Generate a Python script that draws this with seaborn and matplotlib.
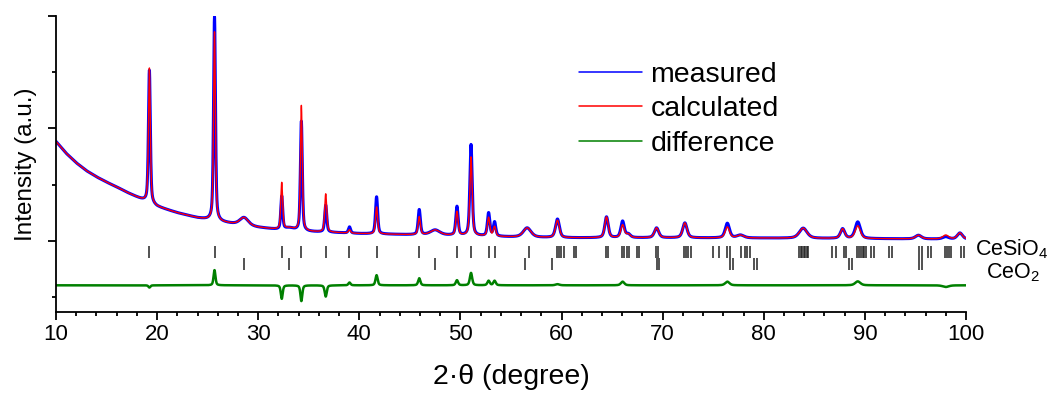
import numpy as np
import matplotlib
matplotlib.use("Agg")
import matplotlib.pyplot as plt
import seaborn as sns

# background knots (2theta, intensity)
bg_angle = [10, 11, 12, 13, 14, 15, 16, 17, 18, 20, 22, 24, 26, 28, 30, 32, 35, 38, 40, 45, 50, 55, 60, 70, 80, 90, 100]
bg_value = [1770, 1560, 1390, 1250, 1140, 1045, 960, 865, 780, 610, 500, 410, 345, 290, 240, 200, 165, 145, 130, 110, 95, 70, 55, 55, 50, 40, 30]

# reflections: position, calculated height, measured height, fwhm
peak_pos  = [19.24, 25.68, 28.6, 32.33, 33.1, 34.27, 36.68, 39.03, 41.71, 45.93, 47.5, 49.66, 51.05, 52.79, 53.38,
             56.6, 59.6, 64.45, 66.04, 66.6, 69.4, 72.2, 76.4, 77.7, 83.9, 87.8, 89.3, 95.3, 98.0, 99.4]
calc_h    = [2400, 3360, 140, 830, 40, 2230, 680, 60, 480, 320, 90, 420, 1400, 330, 170,
             165, 310, 370, 225, 60, 175, 265, 195, 50, 180, 170, 225, 65, 70, 110]
meas_h    = [2360, 3630, 140, 590, 40, 1950, 480, 110, 660, 445, 90, 510, 1620, 410, 250,
             165, 330, 370, 290, 60, 175, 265, 260, 50, 180, 170, 295, 65, 40, 110]
peak_fwhm = [0.22, 0.22, 1.0, 0.22, 1.0, 0.22, 0.24, 0.25, 0.25, 0.26, 1.1, 0.27, 0.27, 0.28, 0.28,
             0.9, 0.45, 0.4, 0.4, 0.5, 0.5, 0.5, 0.5, 0.8, 0.9, 0.5, 0.6, 0.7, 0.7, 0.6]

# reflection markers
cesio4_ticks = [19.24, 25.72, 32.33, 34.27, 36.68, 39.03, 41.71, 45.93, 49.66, 51.05, 52.79, 53.38, 56.75,
                59.55, 59.75, 59.95, 60.2, 61.2, 61.4, 64.4, 64.6, 66.0, 66.2, 66.45, 66.7, 67.5, 67.7,
                69.3, 69.55, 72.1, 72.3, 72.55, 72.8, 75.0, 75.6, 76.4, 76.65, 77.8, 78.1, 78.35, 78.6,
                83.5, 83.65, 83.8, 83.95, 84.1, 84.25, 84.4, 86.8, 87.1, 87.9, 88.1,
                89.2, 89.4, 89.6, 89.8, 89.95, 90.1, 90.6, 90.9, 92.4, 92.7, 95.4, 95.7, 96.2, 96.55,
                97.9, 98.1, 98.3, 98.5, 99.5, 99.85]
ceo2_ticks = [28.55, 33.08, 47.48, 56.34, 59.09, 69.40, 69.6, 76.70, 76.95, 79.07, 79.3, 88.41, 88.7, 95.39, 95.7]

diff_offset = -790
cesio4_row = -205
ceo2_row = -410


def profile(x, heights):
    out = np.interp(x, bg_angle, bg_value).astype(float)
    for p, h, w in zip(peak_pos, heights, peak_fwhm):
        d2 = (x - p) ** 2 / w ** 2
        out += h * (0.5 / (1 + 4 * d2) + 0.5 * np.exp(-4 * np.log(2) * d2))
    return out


two_theta = np.arange(10, 100.001, 0.01)
calc = profile(two_theta, calc_h)
meas = profile(two_theta, meas_h)
diff = meas - calc + diff_offset

sns.set_theme(style="ticks")
plt.rcParams['font.family'] = ['Liberation Sans', 'DejaVu Sans']
plt.rcParams['mathtext.default'] = 'regular'
plt.rcParams['text.color'] = 'black'
plt.rcParams['axes.labelcolor'] = 'black'
plt.rcParams['xtick.color'] = 'black'
plt.rcParams['ytick.color'] = 'black'

fig = plt.figure(figsize=(10.52, 3.96), dpi=100)
ax = fig.add_axes([0.0532, 0.2121, 0.865, 0.7475])

sns.lineplot(x=two_theta, y=meas, color="#0000ff", linewidth=2.2, ax=ax, label="measured", estimator=None)
sns.lineplot(x=two_theta, y=calc, color="#ff0000", linewidth=1.0, ax=ax, label="calculated", estimator=None)
sns.lineplot(x=two_theta, y=diff, color="#008000", linewidth=1.8, ax=ax, label="difference", estimator=None)

ax.plot(cesio4_ticks, [cesio4_row] * len(cesio4_ticks), linestyle="none", marker="|",
        markersize=8, markeredgewidth=1.1, color="#222222")
ax.plot(ceo2_ticks, [ceo2_row] * len(ceo2_ticks), linestyle="none", marker="|",
        markersize=8, markeredgewidth=1.1, color="#222222")

ax.set_xlim(10, 100)
ax.set_ylim(-1265, 4000)
ax.set_xticks(range(10, 101, 10))
ax.set_xticks(range(10, 101, 2), minor=True)
ax.set_yticks([0, 2000, 4000])
ax.set_yticks([-1000, 1000, 3000], minor=True)
ax.set_yticklabels([])
ax.tick_params(axis="both", which="major", length=5.5, width=1.3, labelsize=16, pad=3)
ax.tick_params(axis="both", which="minor", length=3, width=1.3)
sns.despine(ax=ax)
for s in ["left", "bottom"]:
    ax.spines[s].set_linewidth(1.3)
    ax.spines[s].set_color("black")

ax.set_xlabel("2·θ (degree)", fontsize=20.5, labelpad=14)
ax.set_ylabel("Intensity (a.u.)", fontsize=17.5)
ax.yaxis.set_label_coords(-0.021, 0.5)

leg = ax.legend(loc="upper left", bbox_to_anchor=(0.575, 0.845), frameon=False, fontsize=20.5,
                handlelength=2.2, handletextpad=0.3, labelspacing=0.3, borderpad=0, borderaxespad=0)
for line in leg.get_lines():
    line.set_linewidth(1.1)

fig.text(0.962, 0.356, "CeSiO$_4$", fontsize=15.5, ha="center", va="baseline")
fig.text(0.963, 0.298, "CeO$_2$", fontsize=15.5, ha="center", va="baseline")

fig.savefig("out.png", dpi=100)
